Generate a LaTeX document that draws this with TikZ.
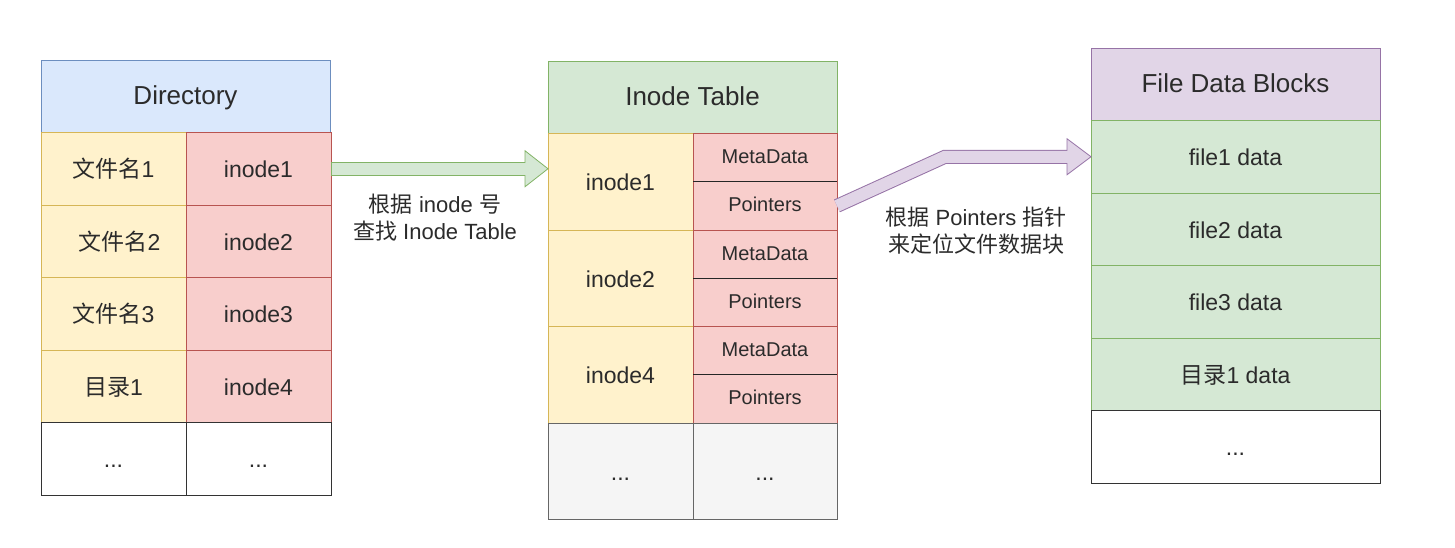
\documentclass[tikz,border=0pt]{standalone}
\usepackage{fontspec}
\setmainfont{Liberation Sans}
\newfontfamily\cjk{Noto Sans CJK SC}
\usepackage{tikz}
\usetikzlibrary{calc, positioning}
\usepackage{xcolor}
\definecolor{blueFill}{HTML}{DAE8FC}
\definecolor{blueLine}{HTML}{6C8EBF}
\definecolor{yelFill}{HTML}{FFF2CC}
\definecolor{yelLine}{HTML}{D6B656}
\definecolor{redFill}{HTML}{F8CECC}
\definecolor{redLine}{HTML}{B85450}
\definecolor{grnFill}{HTML}{D5E8D4}
\definecolor{grnLine}{HTML}{82B366}
\definecolor{purFill}{HTML}{E1D5E7}
\definecolor{purLine}{HTML}{9673A6}
\definecolor{gryFill}{HTML}{F5F5F5}
\definecolor{gryLine}{HTML}{666666}
\definecolor{txt}{HTML}{2B2B2B}
\tikzset{
  cell/.style={draw, outer sep=0pt, inner sep=0pt, minimum width=72.5pt,
    minimum height=36.25pt, text=txt, text height=9.5pt, text depth=0.5pt,
    font=\fontsize{11.5}{13}\selectfont},
  head/.style={cell, minimum width=144.5pt, text height=9.5pt, text depth=1pt,
    font=\fontsize{13}{15}\selectfont},
  yel/.style={cell, fill=yelFill, draw=yelLine},
  red/.style={cell, fill=redFill, draw=redLine},
  grn/.style={cell, fill=grnFill, draw=grnLine, minimum width=144.5pt},
  blank/.style={cell, fill=white, draw=black!80},
  big/.style={yel, minimum height=48.25pt},
  sub/.style={red, minimum width=72pt, minimum height=24.125pt,
    text height=6.5pt, text depth=0.5pt, font=\fontsize{10}{12}\selectfont},
  note/.style={align=center, text=txt, font=\fontsize{11}{13.5}\selectfont}
}

\begin{document}
\begin{tikzpicture}[x=0.5pt, y=-0.5pt]
  \useasboundingbox (0,0) rectangle (1455,547);

  % directory
  \node[head, fill=blueFill, draw=blueLine, anchor=north west] (dirhead) at (41,60) {Directory};
  \node[yel, anchor=north west] (d1n) at (dirhead.south west) {{\cjk 文件名}1};
  \node[red, right=0pt of d1n] (d1i) {inode1};
  \node[yel, below=0pt of d1n] (d2n) {\hspace*{6pt}{\cjk 文件名}2};
  \node[red, right=0pt of d2n] (d2i) {inode2};
  \node[yel, below=0pt of d2n] (d3n) {{\cjk 文件名}3};
  \node[red, right=0pt of d3n] (d3i) {inode3};
  \node[yel, below=0pt of d3n] (d4n) {{\cjk 目录}1};
  \node[red, right=0pt of d4n] (d4i) {inode4};
  \node[blank, below=0pt of d4n] (d5n) {...};
  \node[blank, right=0pt of d5n] (d5i) {...};

  % inode table
  \node[head, fill=grnFill, draw=grnLine, anchor=north west] (tabhead) at (548,61) {Inode Table};
  \node[big, anchor=north west] (t1) at (tabhead.south west) {inode1};
  \node[sub, anchor=north west] (m1) at (t1.north east) {MetaData};
  \node[sub, below=0pt of m1] (p1) {Pointers};
  \node[big, below=0pt of t1] (t2) {inode2};
  \node[sub, anchor=north west] (m2) at (t2.north east) {MetaData};
  \node[sub, below=0pt of m2] (p2) {Pointers};
  \node[big, below=0pt of t2] (t4) {inode4};
  \node[sub, anchor=north west] (m4) at (t4.north east) {MetaData};
  \node[sub, below=0pt of m4] (p4) {Pointers};
  \node[big, fill=gryFill, draw=gryLine, below=0pt of t4] (t5) {...};
  \node[big, fill=gryFill, draw=gryLine, minimum width=72pt, right=0pt of t5] (t5p) {...};
  \foreach \m in {m1,m2,m4}
    \draw[black!85] (\m.south west) -- (\m.south east);

  % data blocks
  \node[head, fill=purFill, draw=purLine, anchor=north west] (blkhead) at (1091,48) {File Data Blocks};
  \node[grn, below=0pt of blkhead] (f1) {file1 data};
  \node[grn, below=0pt of f1] (f2) {file2 data};
  \node[grn, below=0pt of f2] (f3) {file3 data};
  \node[grn, below=0pt of f3] (f4) {{\cjk 目录}1 data};
  \node[blank, minimum width=144.5pt, below=0pt of f4] (f5) {...};

  % inode -> inode table
  \coordinate (gs) at (d1i.east);
  \coordinate (ge) at (gs -| t1.west);
  \draw[line width=7pt, grnLine] (gs) -- ($(ge)+(-23,0)$);
  \filldraw[fill=grnFill, draw=grnLine] (ge) -- ++(-23,-18) -- ++(0,36) -- cycle;
  \draw[line width=6pt, grnFill] ($(gs)+(1,0)$) -- ($(ge)+(-22,0)$);
  \node[note] (lbl1) at (435,218) {{\cjk 根据} inode {\cjk 号}\\{\cjk 查找} Inode Table};

  % pointers -> data blocks
  \coordinate (ps) at (p1.east);
  \coordinate (pe) at (f1.west);
  \coordinate (pb) at ($(pe)+(-146,0)$);
  \draw[line width=7pt, purLine, line join=miter] (ps) -- (pb) -- ($(pe)+(-24,0)$);
  \filldraw[fill=purFill, draw=purLine] (pe) -- ++(-24,-18) -- ++(0,36) -- cycle;
  \draw[line width=6pt, purFill, line join=miter] (ps) -- (pb) -- ($(pe)+(-23,0)$);
  \node[note] (lbl2) at (976,231) {{\cjk 根据} Pointers {\cjk 指针}\\{\cjk 来定位文件数据块}};
\end{tikzpicture}
\end{document}
